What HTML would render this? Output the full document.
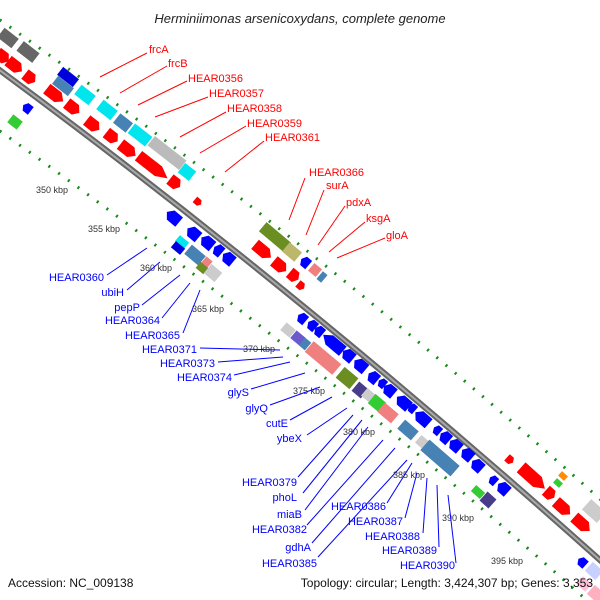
<!DOCTYPE html>
<html><head><meta charset="utf-8"><style>
html,body{margin:0;padding:0;background:#fff;}
svg{display:block;}
text{font-family:"Liberation Sans","DejaVu Sans",sans-serif;}
.r{fill:#ff0000;font-size:11px;}
.b{fill:#0000ff;font-size:11px;}
.k{fill:#333;font-size:9px;}
.lr{stroke:#ff0000;stroke-width:1;}
.lb{stroke:#0000ff;stroke-width:1;}
</style></head><body>
<svg width="600" height="600" viewBox="0 0 600 600" xmlns="http://www.w3.org/2000/svg">
<defs>
<polygon id="fa" points="-8,-6 3,-6 8,0 3,6 -8,6"/>
<polygon id="ra" points="8,-6 -3,-6 -8,0 -3,6 8,6"/>
</defs>
<rect width="600" height="600" fill="#fff"/>
<text x="300" y="23" text-anchor="middle" font-size="13" font-style="italic" fill="#222">Herminiimonas arsenicoxydans, complete genome</text>

<!-- rings -->
<path d="M -10,13 Q 300,230 610,508" fill="none" stroke="#1a8a1a" stroke-width="3" stroke-dasharray="2 10"/>
<path d="M -10,124 Q 300,343 610,621" fill="none" stroke="#1a8a1a" stroke-width="3" stroke-dasharray="2 10"/>
<!-- backbone -->
<path d="M -10,63 Q 300,291 610,569" fill="none" stroke="#666" stroke-width="6"/>
<path d="M -10,63 Q 300,291 610,569" fill="none" stroke="#aaa" stroke-width="2"/>

<g stroke="none">
<g transform="translate(8,38) rotate(38)"><rect x="-9" y="-6" width="18" height="12" fill="#666"/></g>
<g transform="translate(28,52) rotate(38)"><rect x="-10" y="-6" width="20" height="12" fill="#666"/></g>
<g transform="translate(68,77) rotate(38)"><rect x="-10" y="-5" width="20" height="10" fill="#0000dd"/></g>
<g transform="translate(63,86) rotate(38)"><rect x="-10" y="-5" width="20" height="10" fill="#4682b4"/></g>
<g transform="translate(85,95) rotate(38)"><rect x="-9" y="-6" width="18" height="12" fill="#00e5ee"/></g>
<g transform="translate(107,110) rotate(38)"><rect x="-9" y="-6" width="18" height="12" fill="#00e5ee"/></g>
<g transform="translate(123,123) rotate(38)"><rect x="-8" y="-6" width="16" height="12" fill="#4682b4"/></g>
<g transform="translate(140,135) rotate(38)"><rect x="-11" y="-6" width="22" height="12" fill="#00e5ee"/></g>
<g transform="translate(167,153) rotate(38)"><rect x="-20" y="-6" width="40" height="12" fill="#bbb"/></g>
<g transform="translate(187,172) rotate(38)"><rect x="-7" y="-6" width="14" height="12" fill="#00e5ee"/></g>
<g transform="translate(15,122) rotate(38)"><rect x="-6" y="-5" width="12" height="10" fill="#33cc33"/></g>
<g transform="translate(182,242) rotate(40)"><rect x="-6" y="-4" width="12" height="8" fill="#00e5ee"/></g>
<g transform="translate(178,248) rotate(40)"><rect x="-6" y="-4" width="12" height="8" fill="#0000dd"/></g>
<g transform="translate(195,255) rotate(40)"><rect x="-9" y="-6" width="18" height="12" fill="#4682b4"/></g>
<g transform="translate(207,262) rotate(40)"><rect x="-4" y="-4" width="8" height="8" fill="#f08080"/></g>
<g transform="translate(202,268) rotate(40)"><rect x="-5" y="-4" width="10" height="8" fill="#6b8e23"/></g>
<g transform="translate(213,273) rotate(40)"><rect x="-7" y="-6" width="14" height="12" fill="#ccc"/></g>
<g transform="translate(275,237) rotate(40)"><rect x="-16" y="-6" width="32" height="12" fill="#6b8e23"/></g>
<g transform="translate(292,252) rotate(40)"><rect x="-8" y="-6" width="16" height="12" fill="#bdb76b"/></g>
<g transform="translate(315,270) rotate(40)"><rect x="-5" y="-5" width="10" height="10" fill="#f08080"/></g>
<g transform="translate(322,277) rotate(40)"><rect x="-3" y="-5" width="6" height="10" fill="#4682b4"/></g>
<g transform="translate(288,330) rotate(40)"><rect x="-6" y="-5" width="12" height="10" fill="#ccc"/></g>
<g transform="translate(298,338) rotate(40)"><rect x="-6" y="-5" width="12" height="10" fill="#6a5acd"/></g>
<g transform="translate(305,344) rotate(40)"><rect x="-4" y="-5" width="8" height="10" fill="#4682b4"/></g>
<g transform="translate(323,358) rotate(40)"><rect x="-18" y="-7" width="36" height="14" fill="#f08080"/></g>
<g transform="translate(347,378) rotate(40)"><rect x="-9" y="-7" width="18" height="14" fill="#6b8e23"/></g>
<g transform="translate(360,390) rotate(40)"><rect x="-6" y="-6" width="12" height="12" fill="#483d8b"/></g>
<g transform="translate(368,395) rotate(40)"><rect x="-5" y="-5" width="10" height="10" fill="#ccc"/></g>
<g transform="translate(377,403) rotate(40)"><rect x="-7" y="-6" width="14" height="12" fill="#33cc33"/></g>
<g transform="translate(388,413) rotate(40)"><rect x="-9" y="-6" width="18" height="12" fill="#f08080"/></g>
<g transform="translate(408,430) rotate(41)"><rect x="-9" y="-6" width="18" height="12" fill="#4682b4"/></g>
<g transform="translate(422,442) rotate(41)"><rect x="-5" y="-5" width="10" height="10" fill="#ccc"/></g>
<g transform="translate(440,458) rotate(41)"><rect x="-20" y="-7" width="40" height="14" fill="#4682b4"/></g>
<g transform="translate(478,492) rotate(42)"><rect x="-6" y="-4" width="12" height="8" fill="#33cc33"/></g>
<g transform="translate(488,500) rotate(42)"><rect x="-6" y="-6" width="12" height="12" fill="#483d8b"/></g>
<g transform="translate(563,476) rotate(42)"><rect x="-4" y="-3" width="8" height="6" fill="#ff8c00"/></g>
<g transform="translate(558,483) rotate(42)"><rect x="-4" y="-3" width="8" height="6" fill="#33cc33"/></g>
<g transform="translate(594,511) rotate(42)"><rect x="-10" y="-7" width="20" height="14" fill="#ccc"/></g>
<g transform="translate(594,571) rotate(42)"><rect x="-7" y="-6" width="14" height="12" fill="#c8d0ff"/></g>
<g transform="translate(584,584) rotate(42)"><rect x="-6" y="-5" width="12" height="10" fill="#ffc0d8"/></g>
<g transform="translate(596,594) rotate(42)"><rect x="-7" y="-6" width="14" height="12" fill="#ffb0c0"/></g>
</g>

<g fill="#ff0000">
<use href="#fa" transform="translate(3,57) rotate(38) scale(0.9,1)"/>
<use href="#fa" transform="translate(15,66) rotate(38) scale(1.1,1)"/>
<use href="#fa" transform="translate(30,78) rotate(38) scale(0.8,1)"/>
<use href="#fa" transform="translate(55,95) rotate(38) scale(1.3,1)"/>
<use href="#fa" transform="translate(73,108) rotate(38)"/>
<use href="#fa" transform="translate(93,125) rotate(38)"/>
<use href="#fa" transform="translate(112,137) rotate(38) scale(0.9,1)"/>
<use href="#fa" transform="translate(128,150) rotate(38) scale(1.2,1)"/>
<use href="#fa" transform="translate(153,167) rotate(38) scale(2.3,1)"/>
<use href="#fa" transform="translate(175,183) rotate(38) scale(0.8,1)"/>
<use href="#fa" transform="translate(198,202) rotate(40) scale(0.5,0.6)"/>
<use href="#fa" transform="translate(263,251) rotate(40) scale(1.3,1)"/>
<use href="#fa" transform="translate(280,266) rotate(40)"/>
<use href="#fa" transform="translate(294,276) rotate(40) scale(0.7,1)"/>
<use href="#fa" transform="translate(301,286) rotate(40) scale(0.5,0.7)"/>
<use href="#fa" transform="translate(510,460) rotate(42) scale(0.5,0.7)"/>
<use href="#fa" transform="translate(533,478) rotate(42) scale(2,1.1)"/>
<use href="#fa" transform="translate(550,494) rotate(42) scale(0.7,1)"/>
<use href="#fa" transform="translate(563,508) rotate(42) scale(1.2,1)"/>
<use href="#fa" transform="translate(582,524) rotate(42) scale(1.3,1)"/>
</g>
<g fill="#0000ff">
<use href="#ra" transform="translate(27,108) rotate(38) scale(0.6,0.8)"/>
<use href="#ra" transform="translate(173,217) rotate(40)"/>
<use href="#ra" transform="translate(193,233) rotate(40) scale(0.9,1)"/>
<use href="#ra" transform="translate(207,242) rotate(40) scale(0.9,1)"/>
<use href="#ra" transform="translate(218,250) rotate(40) scale(0.6,1)"/>
<use href="#ra" transform="translate(228,258) rotate(40) scale(0.8,1)"/>
<use href="#ra" transform="translate(305,262) rotate(40) scale(0.6,0.9)"/>
<use href="#ra" transform="translate(302,318) rotate(40) scale(0.6,0.9)"/>
<use href="#ra" transform="translate(312,325) rotate(40) scale(0.6,0.9)"/>
<use href="#ra" transform="translate(319,331) rotate(40) scale(0.6,0.9)"/>
<use href="#ra" transform="translate(333,343) rotate(40) scale(1.6,1)"/>
<use href="#ra" transform="translate(348,355) rotate(40) scale(0.8,1)"/>
<use href="#ra" transform="translate(360,365) rotate(40) scale(0.9,1)"/>
<use href="#ra" transform="translate(373,377) rotate(40) scale(0.7,1)"/>
<use href="#ra" transform="translate(382,383) rotate(40) scale(0.5,0.8)"/>
<use href="#ra" transform="translate(389,390) rotate(40) scale(0.8,1)"/>
<use href="#ra" transform="translate(403,402) rotate(41) scale(1,1)"/>
<use href="#ra" transform="translate(412,408) rotate(41) scale(0.5,0.8)"/>
<use href="#ra" transform="translate(422,418) rotate(41) scale(1.1,1)"/>
<use href="#ra" transform="translate(437,430) rotate(41) scale(0.5,0.8)"/>
<use href="#ra" transform="translate(445,437) rotate(41) scale(0.7,1)"/>
<use href="#ra" transform="translate(455,445) rotate(41) scale(0.8,1)"/>
<use href="#ra" transform="translate(467,454) rotate(41) scale(0.8,1)"/>
<use href="#ra" transform="translate(477,465) rotate(42) scale(0.8,1)"/>
<use href="#ra" transform="translate(493,480) rotate(42) scale(0.5,0.8)"/>
<use href="#ra" transform="translate(503,488) rotate(42) scale(0.8,1)"/>
<use href="#ra" transform="translate(582,562) rotate(42) scale(0.6,0.8)"/>
</g>

<g class="k">
<text x="36" y="193" class="k">350 kbp</text>
<text x="88" y="232" class="k">355 kbp</text>
<text x="140" y="271" class="k">360 kbp</text>
<text x="192" y="312" class="k">365 kbp</text>
<text x="243" y="352" class="k">370 kbp</text>
<text x="293" y="394" class="k">375 kbp</text>
<text x="343" y="435" class="k">380 kbp</text>
<text x="393" y="478" class="k">385 kbp</text>
<text x="442" y="521" class="k">390 kbp</text>
<text x="491" y="564" class="k">395 kbp</text>
</g>

<g class="lr">
<line x1="100" y1="77" x2="147" y2="53"/>
<line x1="120" y1="93" x2="167" y2="66"/>
<line x1="138" y1="105" x2="187" y2="81"/>
<line x1="155" y1="117" x2="208" y2="97"/>
<line x1="180" y1="137" x2="226" y2="112"/>
<line x1="200" y1="153" x2="246" y2="126"/>
<line x1="225" y1="172" x2="264" y2="141"/>
<line x1="289" y1="220" x2="305" y2="178"/>
<line x1="306" y1="235" x2="324" y2="190"/>
<line x1="318" y1="245" x2="345" y2="206"/>
<line x1="329" y1="252" x2="365" y2="222"/>
<line x1="337" y1="258" x2="385" y2="238"/>
</g>
<g class="r">
<text x="149" y="53" class="r">frcA</text>
<text x="168" y="67" class="r">frcB</text>
<text x="188" y="82" class="r">HEAR0356</text>
<text x="209" y="97" class="r">HEAR0357</text>
<text x="227" y="112" class="r">HEAR0358</text>
<text x="247" y="127" class="r">HEAR0359</text>
<text x="265" y="141" class="r">HEAR0361</text>
<text x="309" y="176" class="r">HEAR0366</text>
<text x="326" y="189" class="r">surA</text>
<text x="346" y="206" class="r">pdxA</text>
<text x="366" y="222" class="r">ksgA</text>
<text x="386" y="239" class="r">gloA</text>
</g>

<g class="lb">
<line x1="107" y1="275" x2="147" y2="248"/>
<line x1="127" y1="290" x2="160" y2="262"/>
<line x1="142" y1="305" x2="180" y2="275"/>
<line x1="162" y1="318" x2="190" y2="283"/>
<line x1="183" y1="333" x2="200" y2="290"/>
<line x1="200" y1="348" x2="280" y2="350"/>
<line x1="218" y1="362" x2="283" y2="357"/>
<line x1="234" y1="375" x2="290" y2="362"/>
<line x1="251" y1="389" x2="305" y2="373"/>
<line x1="270" y1="405" x2="320" y2="387"/>
<line x1="290" y1="420" x2="332" y2="397"/>
<line x1="307" y1="435" x2="347" y2="408"/>
<line x1="298" y1="477" x2="353" y2="415"/>
<line x1="303" y1="493" x2="362" y2="420"/>
<line x1="305" y1="510" x2="368" y2="427"/>
<line x1="307" y1="525" x2="383" y2="440"/>
<line x1="312" y1="543" x2="395" y2="448"/>
<line x1="318" y1="557" x2="407" y2="460"/>
<line x1="387" y1="503" x2="412" y2="463"/>
<line x1="405" y1="518" x2="417" y2="473"/>
<line x1="423" y1="533" x2="427" y2="478"/>
<line x1="439" y1="547" x2="437" y2="485"/>
<line x1="456" y1="563" x2="448" y2="495"/>
</g>
<g class="b" text-anchor="end">
<text x="104" y="281">HEAR0360</text>
<text x="124" y="296">ubiH</text>
<text x="140" y="311">pepP</text>
<text x="160" y="324">HEAR0364</text>
<text x="180" y="339">HEAR0365</text>
<text x="197" y="353">HEAR0371</text>
<text x="215" y="367">HEAR0373</text>
<text x="232" y="381">HEAR0374</text>
<text x="249" y="396">glyS</text>
<text x="268" y="412">glyQ</text>
<text x="288" y="427">cutE</text>
<text x="302" y="442">ybeX</text>
<text x="297" y="486">HEAR0379</text>
<text x="297" y="501">phoL</text>
<text x="302" y="518">miaB</text>
<text x="307" y="533">HEAR0382</text>
<text x="311" y="551">gdhA</text>
<text x="317" y="567">HEAR0385</text>
<text x="386" y="510">HEAR0386</text>
<text x="403" y="525">HEAR0387</text>
<text x="420" y="540">HEAR0388</text>
<text x="437" y="554">HEAR0389</text>
<text x="455" y="569">HEAR0390</text>
</g>

<text x="8" y="587" font-size="12" fill="#111">Accession: NC_009138</text>
<text x="593" y="587" font-size="12" fill="#111" text-anchor="end">Topology: circular; Length: 3,424,307 bp; Genes: 3,353</text>
</svg>
</body></html>
